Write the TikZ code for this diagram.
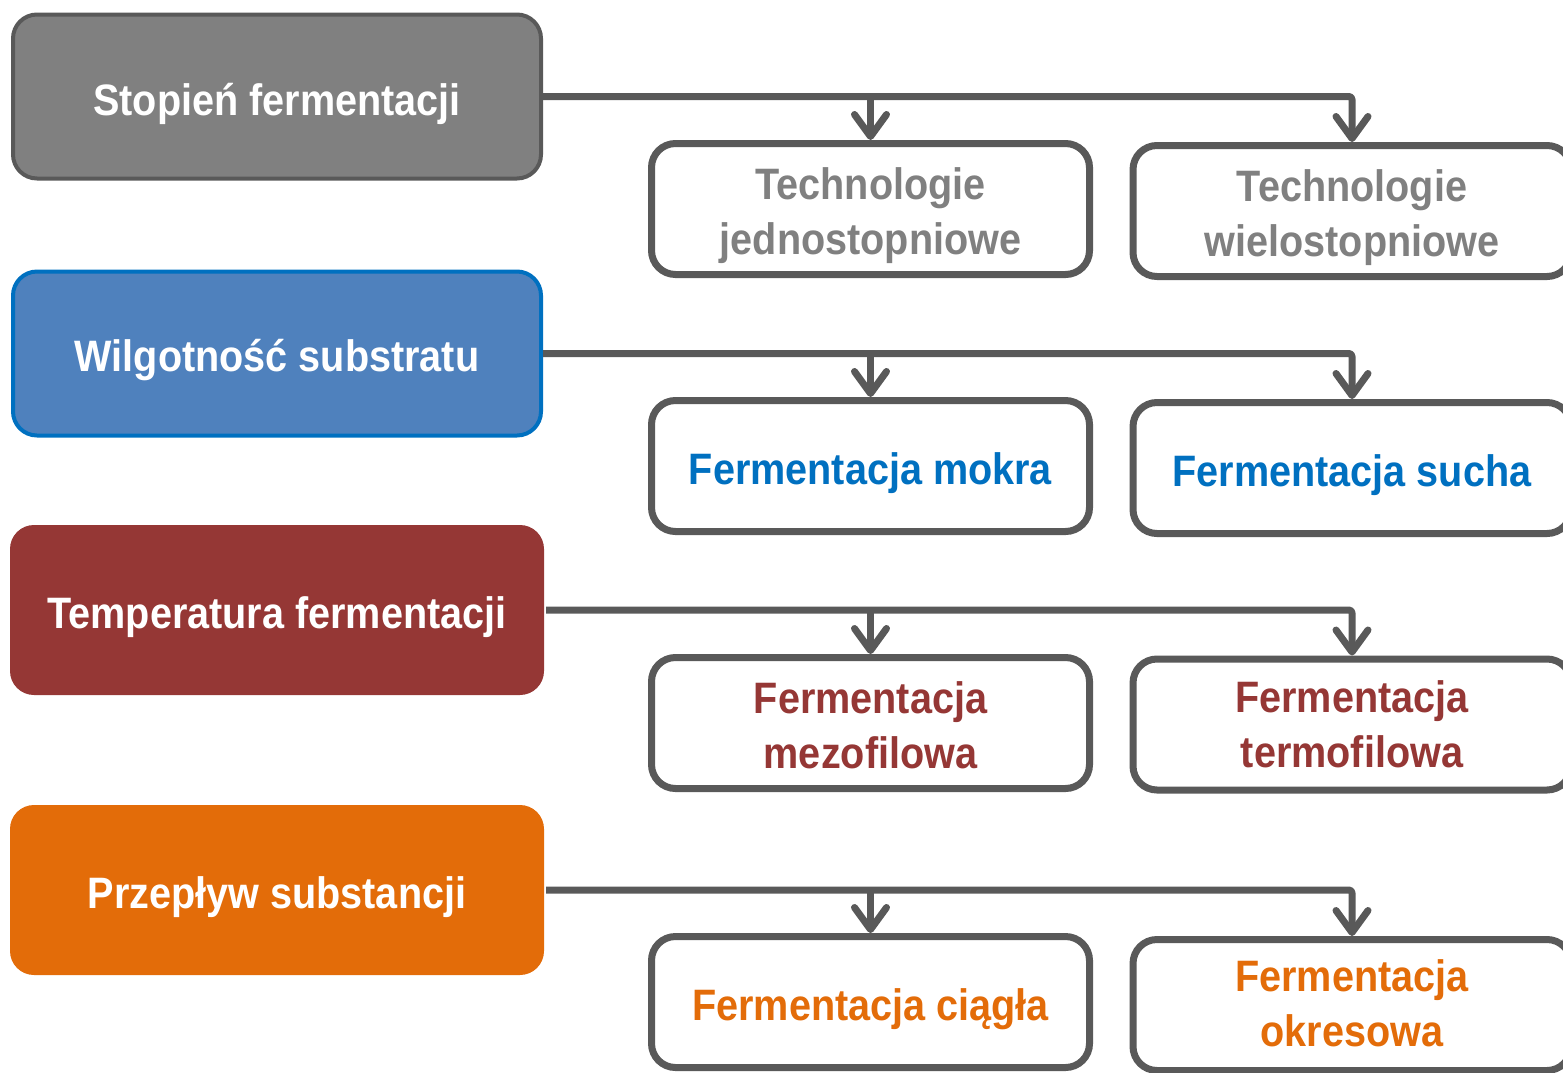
\documentclass[tikz,border=0pt]{standalone}
\usepackage{fontspec}
\setmainfont[FakeStretch=0.90]{Liberation Sans}
\usetikzlibrary{arrows.meta}
\definecolor{dgray}{HTML}{595959}
\definecolor{mgray}{HTML}{808080}
\definecolor{bfill}{HTML}{4F81BD}
\definecolor{bline}{HTML}{0070C0}
\definecolor{rcol}{HTML}{953735}
\definecolor{ocol}{HTML}{E36C09}
\tikzset{
  catbox/.style={rounded corners=24pt, minimum width=528pt, minimum height=164pt, inner sep=0pt,
    line width=4pt},
  cattext/.style={text=white, inner sep=0pt, font=\fontsize{44}{55}\selectfont\bfseries},
  itembox/.style={rounded corners=24pt, draw=dgray, fill=white, line width=7pt,
    minimum width=438pt, minimum height=131pt, inner sep=0pt},
  itemtext/.style={inner sep=0pt, align=center, font=\fontsize{44}{55}\selectfont\bfseries},
  conn/.style={draw=dgray, line width=7pt, rounded corners=3pt, line join=round},
  arr/.style={conn, -{Straight Barb[length=22pt, width=32pt, round]}}
}
\begin{document}
\begin{tikzpicture}[x=1pt, y=-1pt]
\useasboundingbox (0,0) rectangle (1563,1072);
\clip (0,0) rectangle (1563,1072);
% category boxes
\node[catbox, draw=dgray, fill=mgray] (L1) at (277,96.5) {};
\node[catbox, draw=bline, fill=bfill] (L2) at (277,353.5) {};
\node[catbox, fill=rcol, minimum width=534pt, minimum height=170pt] (L3) at (277,610) {};
\node[catbox, fill=ocol, minimum width=534pt, minimum height=170pt] (L4) at (277,890) {};
\node[cattext] (L1t) at ([yshift=-7pt]L1.center) {Stopień fermentacji};
\node[cattext] (L2t) at ([yshift=-7pt]L2.center) {Wilgotność substratu};
\node[cattext] (L3t) at ([yshift=-7pt]L3.center) {Temperatura fermentacji};
\node[cattext] (L4t) at ([yshift=-7pt]L4.center) {Przepływ substancji};
% item boxes
\node[itembox] (M1) at (870.5,209) {};
\node[itembox] (R1) at (1352,211) {};
\node[itembox] (M2) at (870.5,466) {};
\node[itembox] (R2) at (1352,468) {};
\node[itembox] (M3) at (870.5,723) {};
\node[itembox] (R3) at (1352,724.5) {};
\node[itembox] (M4) at (870.5,1002) {};
\node[itembox] (R4) at (1352,1005) {};
\node[itemtext, text=mgray] (M1t) at ([yshift=-7pt]M1.center) {Technologie\\jednostopniowe};
\node[itemtext, text=mgray] (R1t) at ([yshift=-7pt]R1.center) {Technologie\\wielostopniowe};
\node[itemtext, text=bline] (M2t) at ([yshift=-7pt]M2.center) {Fermentacja mokra};
\node[itemtext, text=bline] (R2t) at ([yshift=-7pt]R2.center) {Fermentacja sucha};
\node[itemtext, text=rcol] (M3t) at ([yshift=-2pt]M3.center) {Fermentacja\\mezofilowa};
\node[itemtext, text=rcol] (R3t) at ([yshift=0pt]R3.center) {Fermentacja\\termofilowa};
\node[itemtext, text=ocol] (M4t) at ([yshift=-7pt]M4.center) {Fermentacja ciągła};
\node[itemtext, text=ocol] (R4t) at ([yshift=2pt]R4.center) {Fermentacja\\okresowa};
% connectors
\foreach \i in {1,2,3,4}{
  \draw[arr] (L\i.east) -| (R\i.north);
  \draw[arr] (L\i.east -| M\i.north) -- (M\i.north);
}
\end{tikzpicture}
\end{document}
